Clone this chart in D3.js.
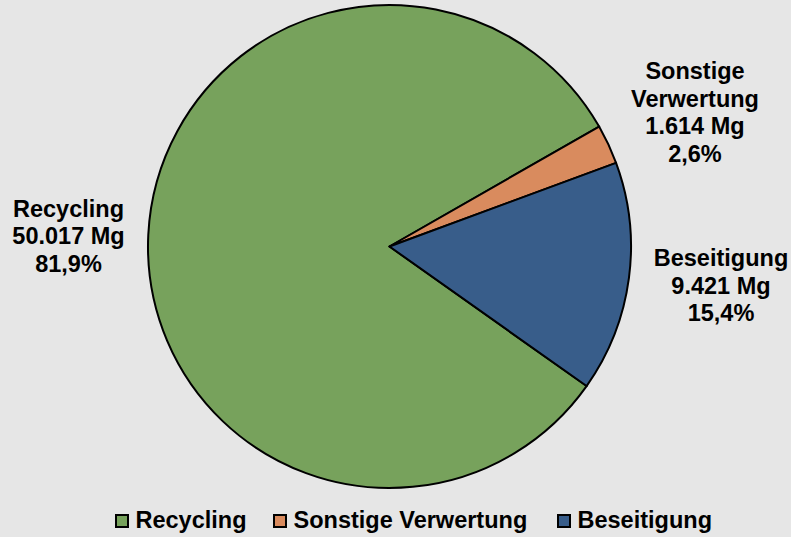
<!DOCTYPE html>
<html><head><meta charset="utf-8">
<script src="https://cdn.jsdelivr.net/npm/d3@7"></script>
<style>body{margin:0;background:#e6e6e6;}svg{display:block;}</style>
</head><body>
<svg id="chart" width="791" height="537"></svg>
<script>
const categories = ["Recycling", "Sonstige Verwertung", "Beseitigung"];
const values = [50017, 1614, 9421];
const valueLabels = ["50.017 Mg", "1.614 Mg", "9.421 Mg"];
const percentLabels = ["81,9%", "2,6%", "15,4%"];
const labelLines = [["Recycling"], ["Sonstige", "Verwertung"], ["Beseitigung"]];
const colors = ["#77a25c", "#d98b5e", "#385d8a"];

const W = 791, H = 537;
const svg = d3.select("#chart");
svg.append("rect").attr("width", W).attr("height", H).attr("fill", "#e6e6e6");

const cx = 389.5, cy = 246.5, r = 241.5;
const startDeg = 125.3;
const pie = d3.pie().sort(null).value(d => d)
  .startAngle(startDeg * Math.PI / 180)
  .endAngle((startDeg + 360) * Math.PI / 180);
const arcs = pie(values);
const arc = d3.arc().innerRadius(0).outerRadius(r);

const g = svg.append("g").attr("transform", `translate(${cx},${cy})`);
g.selectAll("path").data(arcs).enter().append("path")
  .attr("d", arc)
  .attr("fill", (d, i) => colors[i])
  .attr("stroke", "#000").attr("stroke-width", 2).attr("stroke-linejoin", "round");

const FONT = "'Liberation Sans', Arial, sans-serif";

// data labels
const labelPos = [{x: 68.5, y: 216.5}, {x: 695, y: 79}, {x: 721, y: 266}];
const lh = 27.6;
arcs.forEach((a, i) => {
  const lines = labelLines[i].concat([valueLabels[i], percentLabels[i]]);
  const t = svg.append("text")
    .attr("text-anchor", "middle")
    .attr("font-family", FONT)
    .attr("font-weight", "bold").attr("font-size", 23.5).attr("fill", "#000");
  lines.forEach((s, j) => {
    t.append("tspan").attr("x", labelPos[i].x).attr("y", labelPos[i].y + j * lh).text(s);
  });
});

// legend
const legendX = [116, 274, 558];
const legY = 515;
const lg = svg.append("g");
categories.forEach((c, i) => {
  lg.append("rect").attr("x", legendX[i]).attr("y", legY).attr("width", 12).attr("height", 12)
    .attr("fill", colors[i]).attr("stroke", "#000").attr("stroke-width", 2);
  lg.append("text").attr("x", legendX[i] + 19.5).attr("y", legY + 13)
    .attr("font-family", FONT)
    .attr("font-weight", "bold").attr("font-size", 23.5).attr("fill", "#000")
    .text(c);
});
</script>
</body></html>
